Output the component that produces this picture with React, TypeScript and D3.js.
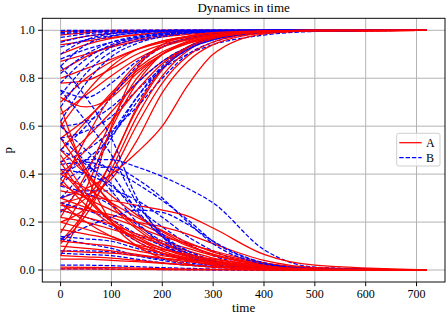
import React from "react";
import * as d3 from "d3";

const TIMES = [0, 50, 100, 150, 200, 250, 300, 400, 500, 720];

// population A (red, solid) - one row per run, values at TIMES
const runsA: number[][] = [
  [0.995, 0.998, 1, 1, 1, 1, 1, 1, 1, 1],
  [0.98, 0.99, 0.996, 0.998, 1, 1, 1, 1, 1, 1],
  [0.955, 0.975, 0.987, 0.994, 0.997, 0.999, 1, 1, 1, 1],
  [0.94, 0.955, 0.97, 0.982, 0.99, 0.995, 0.997, 1, 1, 1],
  [0.9, 0.94, 0.966, 0.981, 0.99, 0.995, 0.997, 1, 1, 1],
  [0.87, 0.9, 0.93, 0.955, 0.972, 0.983, 0.99, 0.997, 1, 1],
  [0.83, 0.89, 0.935, 0.962, 0.978, 0.988, 0.994, 0.998, 1, 1],
  [0.8, 0.84, 0.88, 0.92, 0.95, 0.97, 0.982, 0.995, 0.999, 1],
  [0.78, 0.79, 0.84, 0.9, 0.94, 0.965, 0.98, 0.995, 0.999, 1],
  [0.7, 0.8, 0.87, 0.92, 0.955, 0.975, 0.986, 0.996, 0.999, 1],
  [0.65, 0.73, 0.81, 0.88, 0.93, 0.96, 0.978, 0.994, 0.999, 1],
  [0.6, 0.74, 0.85, 0.92, 0.955, 0.975, 0.987, 0.997, 1, 1],
  [0.55, 0.63, 0.73, 0.83, 0.9, 0.945, 0.97, 0.992, 0.998, 1],
  [0.5, 0.62, 0.74, 0.84, 0.91, 0.95, 0.973, 0.993, 0.998, 1],
  [0.45, 0.55, 0.66, 0.78, 0.87, 0.93, 0.963, 0.99, 0.998, 1],
  [0.12, 0.25, 0.455, 0.67, 0.835, 0.926, 0.968, 0.995, 0.999, 1],
  [0.11, 0.23, 0.42, 0.64, 0.81, 0.915, 0.964, 0.994, 0.999, 1],
  [0.2, 0.26, 0.4, 0.605, 0.78, 0.893, 0.951, 0.991, 0.998, 1],
  [0.25, 0.3, 0.45, 0.68, 0.84, 0.93, 0.97, 0.995, 1, 1],
  [0.3, 0.34, 0.4, 0.49, 0.6, 0.77, 0.9, 0.985, 0.998, 1],
  [0.28, 0.31, 0.38, 0.54, 0.74, 0.87, 0.94, 0.988, 0.998, 1],
  [0.155, 0.34, 0.59, 0.78, 0.9, 0.955, 0.98, 0.996, 1, 1],
  [0.06, 0.27, 0.6, 0.84, 0.94, 0.975, 0.99, 0.998, 1, 1],
  [0.4, 0.5, 0.62, 0.75, 0.86, 0.93, 0.965, 0.992, 0.998, 1],
  [0.35, 0.55, 0.73, 0.86, 0.93, 0.965, 0.983, 0.996, 1, 1],
  [0.22, 0.4, 0.62, 0.8, 0.9, 0.95, 0.976, 0.995, 1, 1],
  [0.72, 0.68, 0.72, 0.82, 0.9, 0.945, 0.97, 0.993, 0.999, 1],
  [0.62, 0.42, 0.27, 0.17, 0.1, 0.06, 0.035, 0.011, 0.003, 0],
  [0.55, 0.4, 0.28, 0.18, 0.11, 0.07, 0.04, 0.012, 0.003, 0],
  [0.5, 0.4, 0.31, 0.23, 0.16, 0.105, 0.065, 0.022, 0.006, 0],
  [0.45, 0.3, 0.2, 0.13, 0.08, 0.05, 0.03, 0.01, 0.002, 0],
  [0.4, 0.34, 0.28, 0.22, 0.165, 0.115, 0.075, 0.028, 0.008, 0],
  [0.36, 0.3, 0.25, 0.2, 0.15, 0.1, 0.065, 0.025, 0.008, 0],
  [0.33, 0.31, 0.29, 0.27, 0.25, 0.225, 0.175, 0.065, 0.02, 0.001],
  [0.27, 0.25, 0.23, 0.2, 0.18, 0.15, 0.11, 0.04, 0.01, 0],
  [0.3, 0.26, 0.22, 0.18, 0.14, 0.11, 0.08, 0.03, 0.008, 0],
  [0.25, 0.22, 0.19, 0.15, 0.12, 0.09, 0.06, 0.02, 0.005, 0],
  [0.22, 0.2, 0.17, 0.14, 0.11, 0.08, 0.05, 0.02, 0.005, 0],
  [0.2, 0.17, 0.14, 0.1, 0.07, 0.05, 0.03, 0.01, 0.002, 0],
  [0.12, 0.11, 0.1, 0.08, 0.06, 0.045, 0.03, 0.01, 0.003, 0],
  [0.1, 0.09, 0.08, 0.065, 0.05, 0.035, 0.025, 0.008, 0.002, 0],
  [0.06, 0.055, 0.05, 0.04, 0.03, 0.02, 0.014, 0.005, 0.001, 0],
  [0.045, 0.045, 0.04, 0.035, 0.028, 0.02, 0.013, 0.005, 0.001, 0],
  [0.005, 0.005, 0.004, 0.003, 0.002, 0.001, 0.001, 0, 0, 0],
  [0.012, 0.011, 0.01, 0.008, 0.006, 0.004, 0.003, 0.001, 0, 0],
  [0.68, 0.4, 0.2, 0.1, 0.05, 0.025, 0.012, 0.003, 0, 0],
  [0.48, 0.32, 0.2, 0.12, 0.07, 0.04, 0.02, 0.005, 0.001, 0],
  [0.42, 0.3, 0.21, 0.14, 0.09, 0.055, 0.035, 0.012, 0.003, 0],
  [0.38, 0.27, 0.19, 0.13, 0.09, 0.06, 0.04, 0.015, 0.004, 0],
  [0.17, 0.15, 0.13, 0.105, 0.085, 0.065, 0.045, 0.016, 0.004, 0],
  [0.08, 0.075, 0.07, 0.06, 0.05, 0.04, 0.03, 0.011, 0.003, 0],
  [0.28, 0.2, 0.14, 0.1, 0.07, 0.045, 0.03, 0.01, 0.002, 0],
];

// population B (blue, dashed)
const runsB: number[][] = [
  [0.999, 1, 1, 1, 1, 1, 1, 1, 1, 1],
  [0.99, 0.997, 0.999, 1, 1, 1, 1, 1, 1, 1],
  [0.985, 0.993, 0.997, 0.999, 1, 1, 1, 1, 1, 1],
  [0.97, 0.985, 0.993, 0.997, 0.999, 1, 1, 1, 1, 1],
  [0.95, 0.975, 0.988, 0.995, 0.998, 1, 1, 1, 1, 1],
  [0.93, 0.96, 0.978, 0.988, 0.994, 0.997, 0.999, 1, 1, 1],
  [0.9, 0.96, 0.985, 0.994, 0.998, 1, 1, 1, 1, 1],
  [0.88, 0.92, 0.95, 0.97, 0.983, 0.99, 0.995, 0.999, 1, 1],
  [0.85, 0.94, 0.975, 0.99, 0.996, 0.998, 1, 1, 1, 1],
  [0.82, 0.9, 0.95, 0.975, 0.988, 0.994, 0.997, 1, 1, 1],
  [0.78, 0.88, 0.94, 0.97, 0.985, 0.993, 0.997, 1, 1, 1],
  [0.73, 0.85, 0.93, 0.965, 0.983, 0.992, 0.996, 1, 1, 1],
  [0.68, 0.82, 0.91, 0.955, 0.978, 0.99, 0.995, 0.999, 1, 1],
  [0.62, 0.78, 0.89, 0.945, 0.973, 0.987, 0.994, 0.999, 1, 1],
  [0.55, 0.58, 0.64, 0.75, 0.84, 0.9, 0.94, 0.98, 0.995, 1],
  [0.45, 0.5, 0.58, 0.68, 0.8, 0.9, 0.95, 0.99, 0.998, 1],
  [0.4, 0.46, 0.56, 0.7, 0.84, 0.92, 0.96, 0.99, 0.998, 1],
  [0.5, 0.6, 0.72, 0.85, 0.93, 0.965, 0.983, 0.996, 1, 1],
  [0.24, 0.38, 0.55, 0.72, 0.85, 0.93, 0.965, 0.993, 0.999, 1],
  [0.3, 0.42, 0.57, 0.72, 0.84, 0.92, 0.96, 0.99, 0.998, 1],
  [0.75, 0.72, 0.78, 0.87, 0.93, 0.965, 0.983, 0.996, 1, 1],
  [0.6, 0.62, 0.68, 0.78, 0.87, 0.93, 0.965, 0.992, 0.998, 1],
  [0.38, 0.46, 0.46, 0.43, 0.39, 0.34, 0.28, 0.085, 0.012, 0],
  [0.44, 0.45, 0.42, 0.36, 0.29, 0.21, 0.12, 0.03, 0.006, 0],
  [0.3, 0.33, 0.33, 0.29, 0.22, 0.14, 0.08, 0.02, 0.004, 0],
  [0.42, 0.4, 0.35, 0.26, 0.18, 0.11, 0.06, 0.015, 0.003, 0],
  [0.35, 0.32, 0.27, 0.19, 0.12, 0.07, 0.04, 0.01, 0.002, 0],
  [0.5, 0.44, 0.36, 0.24, 0.14, 0.08, 0.04, 0.01, 0.002, 0],
  [0.55, 0.45, 0.33, 0.2, 0.11, 0.06, 0.03, 0.007, 0.001, 0],
  [0.28, 0.25, 0.21, 0.15, 0.1, 0.06, 0.035, 0.01, 0.002, 0],
  [0.25, 0.22, 0.18, 0.12, 0.07, 0.04, 0.02, 0.005, 0.001, 0],
  [0.14, 0.13, 0.12, 0.09, 0.065, 0.045, 0.03, 0.01, 0.002, 0],
  [0.13, 0.11, 0.09, 0.06, 0.04, 0.025, 0.015, 0.004, 0.001, 0],
  [0.08, 0.08, 0.075, 0.06, 0.045, 0.03, 0.02, 0.006, 0.001, 0],
  [0.07, 0.065, 0.06, 0.045, 0.03, 0.02, 0.012, 0.003, 0, 0],
  [0.02, 0.02, 0.018, 0.014, 0.01, 0.007, 0.004, 0.001, 0, 0],
  [0.005, 0.005, 0.004, 0.003, 0.002, 0.001, 0, 0, 0, 0],
  [0.13, 0.18, 0.22, 0.25, 0.24, 0.19, 0.12, 0.03, 0.006, 0],
  [0.6, 0.5, 0.4, 0.25, 0.14, 0.07, 0.035, 0.008, 0.001, 0],
  [0.85, 0.72, 0.55, 0.3, 0.14, 0.06, 0.025, 0.004, 0, 0],
  [0.75, 0.62, 0.48, 0.28, 0.15, 0.08, 0.04, 0.01, 0.002, 0],
  [0.36, 0.42, 0.43, 0.38, 0.3, 0.2, 0.11, 0.025, 0.005, 0],
];

const xTicks = [0, 100, 200, 300, 400, 500, 600, 700];
const yTicks = [0, 0.2, 0.4, 0.6, 0.8, 1.0];
const labels = { title: "Dynamics in time", x: "time", y: "p", a: "A", b: "B" };

const W = 448;
const H = 316;
const L = 42.3, R = 445, T = 18.3, B = 282;
const FONT = "'Liberation Serif', 'Times New Roman', Times, serif";
const RED = "#ff0000";
const BLUE = "#0000ff";
const DASH = "4.4,1.9";
const LW = 1.25;

export default function App() {
  const x = d3.scaleLinear().domain([-36, 756]).range([L, R]);
  const y = d3.scaleLinear().domain([-0.05, 1.05]).range([B, T]);
  const line = d3
    .line<number>()
    .x((_, i) => x(TIMES[i]))
    .y((d) => y(d))
    .curve(d3.curveMonotoneX);

  const n = Math.max(runsA.length, runsB.length);
  const order: { kind: "A" | "B"; vals: number[] }[] = [];
  for (let i = 0; i < n; i++) {
    if (i < runsA.length) order.push({ kind: "A", vals: runsA[i] });
    if (i < runsB.length) order.push({ kind: "B", vals: runsB[i] });
  }

  return (
    <svg
      width={W}
      height={H}
      style={{ position: "absolute", left: 0, top: 0, background: "#fff" }}
      fontFamily={FONT}
    >
      <rect x={0} y={0} width={W} height={H} fill="#fff" />
      <defs>
        <clipPath id="plotclip">
          <rect x={L} y={T} width={R - L} height={B - T} />
        </clipPath>
      </defs>
      {/* grid */}
      <g stroke="#b0b0b0" strokeWidth={0.96}>
        {xTicks.map((t) => (
          <line key={"gx" + t} x1={x(t)} x2={x(t)} y1={T} y2={B} />
        ))}
        {yTicks.map((t) => (
          <line key={"gy" + t} x1={L} x2={R} y1={y(t)} y2={y(t)} />
        ))}
      </g>
      {/* runs */}
      <g clipPath="url(#plotclip)" fill="none" strokeLinecap="butt" strokeLinejoin="round">
        {order.map((r, i) => (
          <path
            key={i}
            d={line(r.vals) || ""}
            stroke={r.kind === "A" ? RED : BLUE}
            strokeWidth={LW}
            strokeDasharray={r.kind === "B" ? DASH : undefined}
          />
        ))}
      </g>
      {/* spines */}
      <rect x={L} y={T} width={R - L} height={B - T} fill="none" stroke="#000" strokeWidth={0.96} />
      {/* x ticks */}
      <g>
        {xTicks.map((t) => (
          <g key={"xt" + t}>
            <line x1={x(t)} x2={x(t)} y1={B} y2={B + 4.2} stroke="#000" strokeWidth={0.96} />
            <text x={x(t)} y={297.5} fontSize={12} textAnchor="middle" fill="#000">
              {t}
            </text>
          </g>
        ))}
      </g>
      {/* y ticks */}
      <g>
        {yTicks.map((t) => (
          <g key={"yt" + t}>
            <line x1={L - 4.2} x2={L} y1={y(t)} y2={y(t)} stroke="#000" strokeWidth={0.96} />
            <text x={34.8} y={y(t) + 4.1} fontSize={12} textAnchor="end" fill="#000">
              {t.toFixed(1)}
            </text>
          </g>
        ))}
      </g>
      {/* labels */}
      <text x={(L + R) / 2} y={11.6} fontSize={13} textAnchor="middle" fill="#000">
        {labels.title}
      </text>
      <text x={(L + R) / 2} y={311.5} fontSize={13} textAnchor="middle" fill="#000">
        {labels.x}
      </text>
      <text
        transform={`translate(11.5,${(T + B) / 2}) rotate(-90)`}
        fontSize={13}
        textAnchor="middle"
        fill="#000"
      >
        {labels.y}
      </text>
      {/* legend */}
      <g>
        <rect x={396.7} y={133.3} width={43.3} height={32.7} rx={2} fill="#fff" fillOpacity={0.8} stroke="#cccccc" strokeWidth={0.96} />
        <line x1={399.3} x2={421.7} y1={142.7} y2={142.7} stroke={RED} strokeWidth={LW} />
        <text x={426} y={147} fontSize={12} fill="#000">
          {labels.a}
        </text>
        <line x1={399.3} x2={421.7} y1={157.6} y2={157.6} stroke={BLUE} strokeWidth={LW} strokeDasharray={DASH} />
        <text x={426} y={162} fontSize={12} fill="#000">
          {labels.b}
        </text>
      </g>
    </svg>
  );
}
